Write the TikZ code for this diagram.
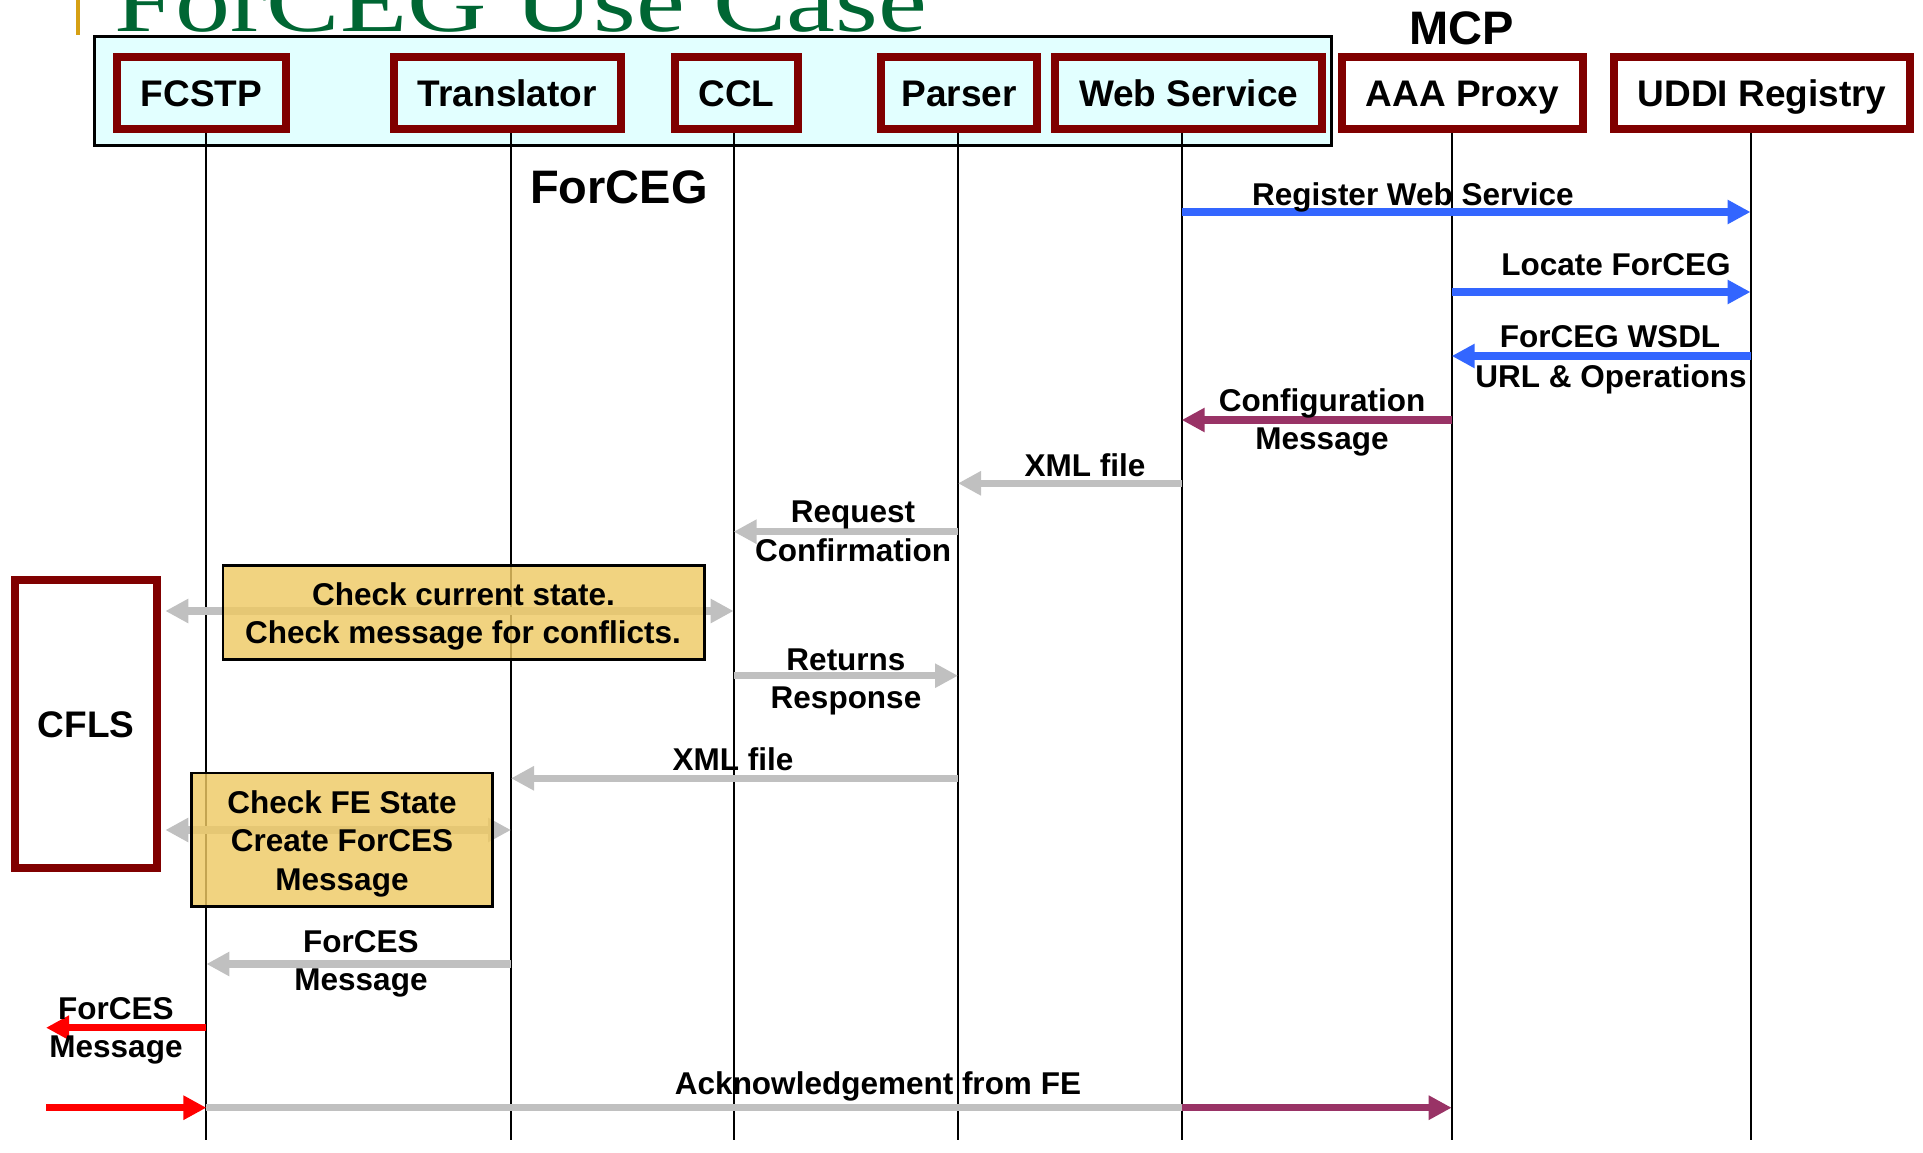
\documentclass[tikz,border=0pt]{standalone}
\usepackage{fontspec}
\setmainfont{Liberation Sans}
\newfontfamily\titlefont{Liberation Serif}[FakeStretch=1.25]
\usetikzlibrary{arrows.meta}
\definecolor{dkred}{RGB}{128,0,0}
\definecolor{cyanfill}{RGB}{226,255,255}
\definecolor{notefill}{RGB}{238,201,100}
\definecolor{blueA}{RGB}{51,102,255}
\definecolor{purp}{RGB}{153,51,102}
\definecolor{grayA}{RGB}{192,192,192}
\definecolor{titlegreen}{RGB}{0,102,51}
\definecolor{goldbar}{RGB}{214,160,20}
\newcommand\lblfont{\fontsize{31.5}{37.8}\selectfont\bfseries}
\newcommand\boxfont{\fontsize{37}{44}\selectfont\bfseries}
\newcommand\bigfont{\fontsize{47}{56}\selectfont\bfseries}
\begin{document}
\begin{tikzpicture}[x=1pt,y=-1pt,
  actor/.style={draw=dkred, line width=8pt, inner sep=0pt, font=\boxfont,
    minimum height=72pt, text height=27pt, text depth=0pt},
  life/.style={line width=2pt, black},
  msg/.style={line width=7.3pt, -{Triangle[length=23pt,width=23pt]}},
  dmsg/.style={line width=7.3pt, {Triangle[length=23pt,width=23pt]}-{Triangle[length=23pt,width=23pt]}},
  plain/.style={line width=7.3pt},
  lbl/.style={font=\lblfont, inner sep=0pt, anchor=base},
  note/.style={draw=black, line width=2.7pt, fill=notefill, fill opacity=0.82, inner sep=0pt}
]
\useasboundingbox (0,0) rectangle (1923,1153);
\clip (0,0) rectangle (1923,1153);

% ForCEG container
\node[draw=black, line width=3pt, fill=cyanfill, minimum width=1236.7pt,
  minimum height=109.5pt, inner sep=0pt] (forcegbox) at (713.2,91.25) {};

% title
\fill[goldbar] (76,0) rectangle (80,35);
\node[anchor=base west, inner sep=0pt, text=titlegreen,
  font=\titlefont\fontsize{88}{90}\selectfont] (title) at (114,32) {ForCEG Use Case};

% actors
\node[actor, minimum width=168.3pt] (fcstp) at (201.5,93) {FCSTP};
\node[actor, minimum width=227.5pt] (trans) at (507.3,93) {Translator};
\node[actor, minimum width=122.6pt] (ccl) at (736.3,93) {CCL};
\node[actor, minimum width=156pt] (parser) at (959,93) {Parser};
\node[actor, minimum width=267.5pt] (ws) at (1188.7,93) {Web Service};
\node[actor, minimum width=241pt] (aaa) at (1462.5,93) {AAA Proxy};
\node[actor, minimum width=296pt] (uddi) at (1762,93) {UDDI Registry};

\node[font=\bigfont, inner sep=0pt, anchor=base] (forceglbl) at (619,204) {ForCEG};
\node[font=\bigfont, inner sep=0pt, anchor=base] (mcplbl) at (1461.5,44.3) {MCP};

% CFLS
\node[draw=dkred, line width=8pt, fill=white, minimum width=142.7pt, minimum height=287.7pt,
  inner sep=0pt, font=\boxfont, text height=26.4pt, text depth=0pt] (cfls) at (86,723.8) {CFLS};
\coordinate (cflsR) at ([xshift=4pt]cfls.east);

% lifelines
\coordinate (bot) at (0,1140);
\coordinate (Lfc) at (206.4,133);
\coordinate (Ltr) at (511,133);
\coordinate (Lcc) at (733.6,133);
\coordinate (Lpa) at (958,133);
\coordinate (Lws) at (1181.7,133);
\coordinate (Laa) at (1451.7,133);
\coordinate (Lud) at (1750.5,133);
\foreach \l in {Lfc,Ltr,Lcc,Lpa,Lws,Laa,Lud}
  \draw[life] (\l) -- (\l |- bot);

% message levels
\coordinate (y1) at (0,212);
\coordinate (y2) at (0,292);
\coordinate (y3) at (0,356);
\coordinate (y4) at (0,420);
\coordinate (y5) at (0,483.3);
\coordinate (y6) at (0,531.7);
\coordinate (y7) at (0,611);
\coordinate (y8) at (0,675.7);
\coordinate (y9) at (0,778.3);
\coordinate (y10) at (0,830);
\coordinate (y11) at (0,964);
\coordinate (ext1) at (46,1027.7);
\coordinate (ext2) at (46,1107.7);

% messages
\draw[msg, blueA] (Lws |- y1) -- (Lud |- y1);
\draw[msg, blueA] (Laa |- y2) -- (Lud |- y2);
\draw[msg, blueA] (Lud |- y3) -- (Laa |- y3);
\draw[msg, purp] (Laa |- y4) -- (Lws |- y4);
\draw[msg, grayA] (Lws |- y5) -- (Lpa |- y5);
\draw[msg, grayA] (Lpa |- y6) -- (Lcc |- y6);
\draw[dmsg, grayA] (cflsR |- y7) -- (Lcc |- y7);
\draw[msg, grayA] (Lcc |- y8) -- (Lpa |- y8);
\draw[msg, grayA] (Lpa |- y9) -- (Ltr |- y9);
\draw[dmsg, grayA] (cflsR |- y10) -- (Ltr |- y10);
\draw[msg, grayA] (Ltr |- y11) -- (Lfc |- y11);
\draw[msg, red] (Lfc |- ext1) -- (ext1);
\draw[plain, grayA] (Lfc |- ext2) -- (Lws |- ext2);
\draw[msg, purp] (Lws |- ext2) -- (Laa |- ext2);
\draw[msg, red] (ext2) -- (Lfc |- ext2);

% notes
\node[note, minimum width=481.5pt, minimum height=94.5pt] (note1) at (463.7,612.5) {};
\node[note, minimum width=301.5pt, minimum height=133.8pt] (note2) at (342,839.8) {};

% labels
\node[lbl] (t1) at (1413,205) {Register Web Service};
\node[lbl] (t2) at (1616,275) {Locate ForCEG};
\node[lbl] (t3a) at (1610,347.7) {ForCEG WSDL};
\node[lbl] (t3b) at (1611,387.7) {URL \& Operations};
\node[lbl] (t4a) at (1322,411.7) {Configuration};
\node[lbl] (t4b) at (1322,449.5) {Message};
\node[lbl] (t5) at (1085,476.7) {XML file};
\node[lbl] (t6a) at (853,522.7) {Request};
\node[lbl] (t6b) at (853,561.7) {Confirmation};
\node[lbl] (n1a) at (463.5,605.7) {Check current state.};
\node[lbl] (n1b) at (463,643.3) {Check message for conflicts.};
\node[lbl] (t8a) at (846,670) {Returns};
\node[lbl] (t8b) at (846,708) {Response};
\node[lbl] (t9) at (733,770) {XML file};
\node[lbl] (n2a) at (342,813.3) {Check FE State};
\node[lbl] (n2b) at (342,851.7) {Create ForCES};
\node[lbl] (n2c) at (342,890) {Message};
\node[lbl] (t11a) at (361,952.7) {ForCES};
\node[lbl] (t11b) at (361,990) {Message};
\node[lbl] (t12a) at (116,1019.3) {ForCES};
\node[lbl] (t12b) at (116,1057.7) {Message};
\node[lbl] (t13) at (878,1094.3) {Acknowledgement from FE};
\end{tikzpicture}
\end{document}
